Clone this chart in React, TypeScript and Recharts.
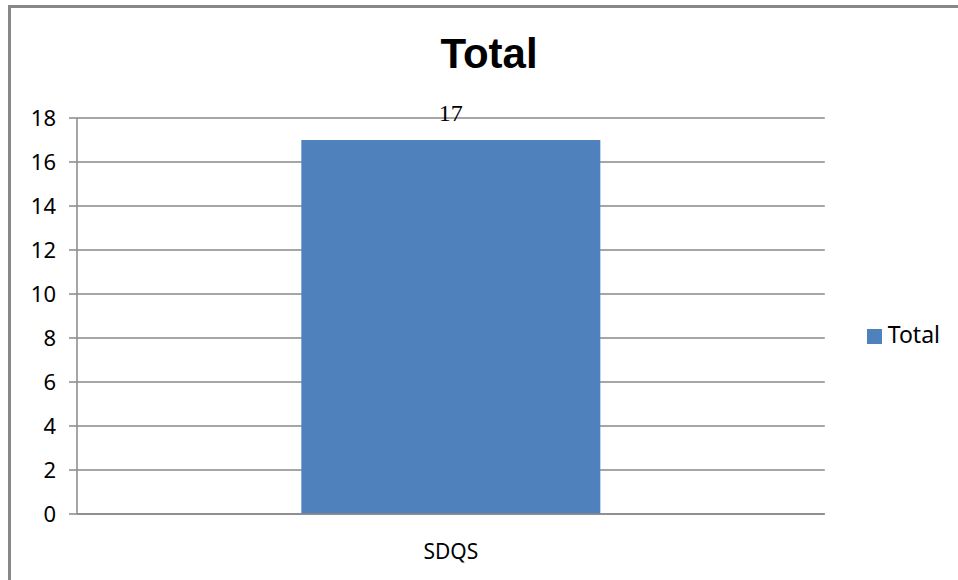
import React from "react";
import { BarChart, Bar, XAxis, YAxis, CartesianGrid, Legend, LabelList } from "recharts";

const categories = ["SDQS"];
const totalValues = [17];
const yTicks = [0, 2, 4, 6, 8, 10, 12, 14, 16, 18];
const seriesName = "Total";
const chartTitle = "Total";

const data = categories.map((c, i) => ({ name: c, total: totalValues[i] }));

const FONT = "'Noto Sans', sans-serif";
const GRID = "#888888";
const BLUE = "#4F81BD";

export default function App() {
  return (
    <div style={{ position: "absolute", left: 0, top: 0, width: 958, height: 580, overflow: "hidden", background: "#fff" }}>
      <div
        style={{
          position: "absolute",
          left: 8,
          top: 5,
          width: 1200,
          height: 1200,
          border: "3px solid #888888",
          boxSizing: "border-box",
        }}
      />
      <div
        style={{
          position: "absolute",
          left: 0,
          top: 28,
          width: 978,
          textAlign: "center",
          fontFamily: "'Liberation Sans', Arial, sans-serif",
          fontWeight: "bold",
          fontSize: 42,
          lineHeight: "52px",
          color: "#000",
        }}
      >
        {chartTitle}
      </div>
      <div style={{ position: "absolute", left: 0, top: 0 }}>
        <BarChart
          width={958}
          height={580}
          data={data}
          margin={{ top: 118, right: 50, bottom: 36, left: 17 }}
          barCategoryGap="30%"
        >
          <CartesianGrid vertical={false} stroke={GRID} strokeWidth={1.5} />
          <XAxis
            dataKey="name"
            tickLine={false}
            tickSize={0}
            tickMargin={30}
            axisLine={{ stroke: GRID, strokeWidth: 1.5 }}
            tick={{ fill: "#000", fontFamily: FONT, fontSize: 21 }}
            height={30}
          />
          <YAxis
            domain={[0, 18]}
            ticks={yTicks}
            interval={0}
            width={60}
            tickSize={8}
            tickMargin={13}
            axisLine={{ stroke: GRID, strokeWidth: 1.5 }}
            tickLine={{ stroke: GRID, strokeWidth: 1.5 }}
            tick={{ fill: "#000", fontFamily: FONT, fontSize: 22 }}
          />
          <Legend
            layout="vertical"
            align="right"
            verticalAlign="middle"
            iconType="square"
            iconSize={15}
            wrapperStyle={{ right: 8, top: 318, fontFamily: FONT, fontSize: 23 }}
            formatter={(v) => <span style={{ color: "#000", marginLeft: 2 }}>{v}</span>}
          />
          <Bar dataKey="total" name={seriesName} fill={BLUE} isAnimationActive={false}>
            <LabelList
              dataKey="total"
              position="top"
              offset={19}
              style={{ fill: "#000", fontFamily: "'Liberation Serif', 'Times New Roman', serif", fontSize: 24 }}
            />
          </Bar>
        </BarChart>
      </div>
    </div>
  );
}
